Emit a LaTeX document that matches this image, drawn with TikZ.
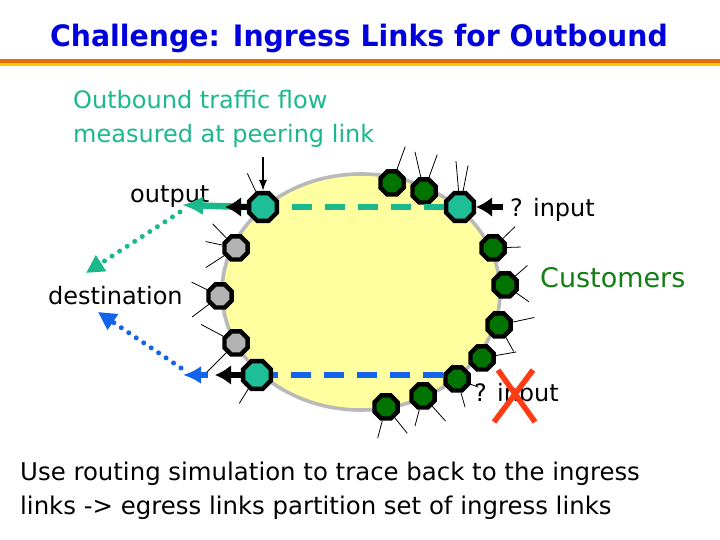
\documentclass[tikz,border=0pt]{standalone}
\usepackage{fontspec}
\setmainfont{DejaVu Sans}
\newfontfamily\titlefont[FakeStretch=0.96]{DejaVu Sans}
\usetikzlibrary{shapes.geometric,arrows.meta}
\definecolor{titleblue}{RGB}{0,0,220}
\definecolor{rulorange}{RGB}{230,110,0}
\definecolor{rulyellow}{RGB}{255,204,0}
\definecolor{asyellow}{RGB}{255,255,160}
\definecolor{asgray}{RGB}{185,185,185}
\definecolor{custgreen}{RGB}{0,115,0}
\definecolor{txtgreen}{RGB}{20,125,20}
\definecolor{coregray}{RGB}{178,178,178}
\definecolor{peerteal}{RGB}{30,190,150}
\definecolor{flowteal}{RGB}{26,185,140}
\definecolor{flowblue}{RGB}{20,100,235}
\definecolor{xred}{RGB}{255,60,20}

\begin{document}
\begin{tikzpicture}[x=1pt,y=1pt,>=Latex,
    router/.style={regular polygon, regular polygon sides=8, minimum size=25pt, inner sep=0pt, draw=black, line width=4.4pt},
    cust/.style={router, fill=custgreen},
    core/.style={router, fill=coregray},
    peer/.style={router, fill=peerteal, minimum size=30pt},
    spoke/.style={line width=0.8pt},
    lbl/.style={font=\fontsize{24}{29}\selectfont, inner sep=0pt},
    dashline/.style={line width=6.5pt, dash pattern=on 20pt off 13pt},
    dotline/.style={line width=5pt, dash pattern=on 0pt off 9pt, line cap=round, -{Triangle[length=18pt,width=18pt]}},
    bigarrow/.style={line width=6pt, -{Latex[length=16pt,width=20pt]}}]
		\useasboundingbox (0,0) rectangle (720,540);
		
		% Title and rule
		\node[anchor=base, inner sep=0pt, text=titleblue, font=\titlefont\bfseries\fontsize{29.5}{34}\selectfont] (title) at (359,493) {Challenge: Ingress Links for Outbound};
		\draw[rulorange, line width=3.5pt] (0,479) -- (720,479);
		\draw[rulyellow, line width=3pt] (0,475.8) -- (720,475.8);
		
		% The AS
		\draw[fill=asyellow, draw=asgray, line width=3.6pt] (361,248) ellipse [x radius=139, y radius=118];
		
		% Texts
		\node[anchor=north west, align=left, inner sep=0pt, text=flowteal, font=\fontsize{24}{34}\selectfont] (note) at (73,450) {Outbound traffic flow\\measured at peering link};
		\node[lbl, anchor=base west] (outlbl) at (130,337) {output};
		\node[lbl, anchor=base west] (inlbl) at (510,323) {? input};
		\node[lbl, anchor=base west] (dest) at (48,235) {destination};
		\node[lbl, anchor=base west, text=txtgreen, font=\fontsize{27}{32}\selectfont] (cust) at (540,252) {Customers};
		\node[lbl, anchor=base west] (inlbl2) at (474,138) {? input};
		
		% Routers
		\node[peer] (tl) at (263,333) {};
		\node[core] (g1) at (236,292) {};
		\node[core] (g2) at (220,244) {};
		\node[core] (g3) at (236,197) {};
		\node[peer] (bl) at (257,165) {};
		\node[cust] (n1) at (392,357) {};
		\node[cust] (n2) at (424,349) {};
		\node[peer] (tr) at (460,333) {};
		\node[cust] (e1) at (493,292) {};
		\node[cust] (e2) at (505,255) {};
		\node[cust] (e3) at (499,215) {};
		\node[cust] (e4) at (482,182) {};
		\node[cust] (e5) at (457,161) {};
		\node[cust] (e6) at (423,144) {};
		\node[cust] (e7) at (386,133) {};
		
		% Links to neighbours
		\foreach \r/\a/\l in {tl/115/20, g1/134/20, g1/168/17, g1/213/22, g2/154/17, g2/217/21,
		    g3/152/25, g3/225/28, bl/238/17, n1/70/24, n2/103/26, n2/70/24, tr/95/30, tr/79/26,
		    e1/44/17, e1/2/14, e2/41/16, e2/325/15, e3/12/22, e3/299/16, e4/10/21,
		    e5/286/15, e5/339/8, e6/255/17, e6/312/20, e7/255/18, e7/309/20}
		    \draw[spoke] (\r.\a) -- ++(\a:\l);
		
		% Teal flow
		\coordinate (outtip) at (182,335);
		\coordinate (tealstart) at (180,328);
		\coordinate (tealend) at (86,267);
		\draw[flowteal, dashline] (tr) -- (tl);
		\draw[flowteal, line width=6.5pt, -{Latex[length=21pt,width=19pt]}] (tl.west) -- (outtip);
		\draw[flowteal, dotline] (tealstart) -- (tealend);
		
		% Blue flow
		\coordinate (bluetip) at (183,165);
		\coordinate (bluestart) at (181,172);
		\coordinate (blueend) at (98,228);
		\draw[flowblue, dashline] (e5.west |- bl) -- (bl);
		\draw[flowblue, dashline, -{Latex[length=18pt,width=18pt]}] (bl) -- (bluetip);
		\draw[flowblue, dotline] (bluestart) -- (blueend);
		
		% Black arrows
		\coordinate (probe) at (263,383);
		\coordinate (tlout) at (225,333);
		\coordinate (blout) at (215,165);
		\coordinate (trin) at (503,333);
		\draw[line width=1.8pt, ->] (probe) -- (tl);
		\draw[bigarrow] (tl) -- (tlout);
		\draw[bigarrow] (bl) -- (blout);
		\draw[bigarrow] (trin) -- (tr);
		
		% Red cross
		\draw[xred, line width=5.5pt] (498,170) -- (535,118);
		\draw[xred, line width=5.5pt] (533,170) -- (494,118);
		
		% Bottom text
		\node[anchor=north west, align=left, inner sep=0pt, font=\fontsize{24.4}{34}\selectfont] (claim) at (20,78.5) {Use routing simulation to trace back to the ingress\\links -> egress links partition set of ingress links};
	\end{tikzpicture}
\end{document}
